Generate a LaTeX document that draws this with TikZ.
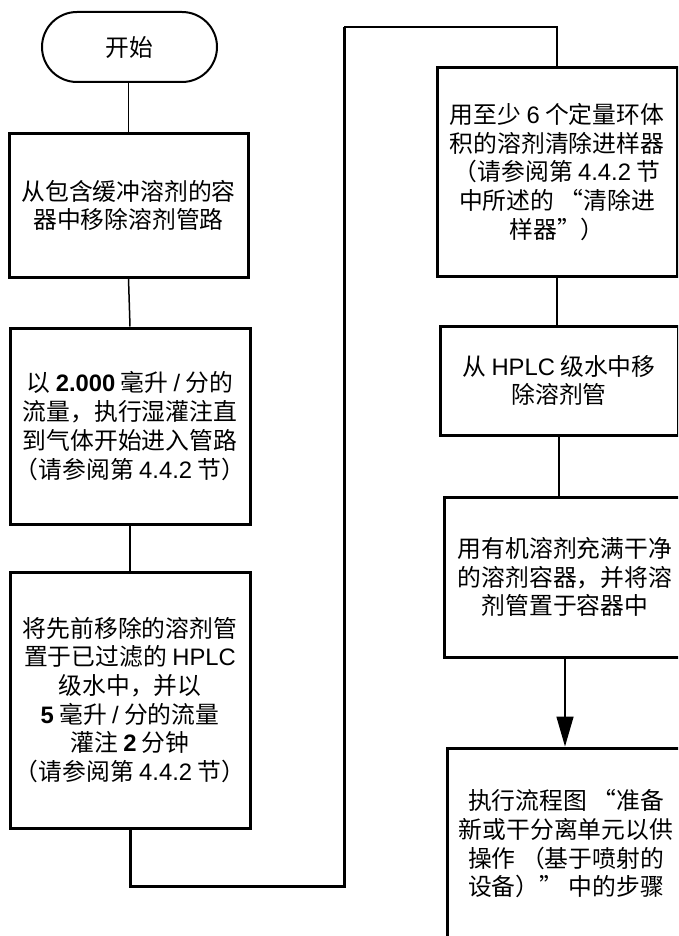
\documentclass[tikz,border=0pt]{standalone}
\usepackage{fontspec}
\setmainfont{Noto Sans CJK SC}
\newfontfamily\lat{Liberation Sans}
\usetikzlibrary{arrows.meta}
\newcommand{\BF}[1]{{\lat\bfseries #1}}
\newcommand{\LT}[1]{{\lat #1}}
\begin{document}
\begin{tikzpicture}[x=1pt,y=-1pt,
  box/.style={draw=black,line width=3pt,fill=white,align=center,inner sep=0pt,
    font=\fontsize{23.8}{28.7}\selectfont},
  term/.style={draw=black,line width=2pt,rounded corners=35pt,align=center,inner sep=0pt,
    minimum width=175pt,minimum height=70pt,font=\fontsize{23.8}{28}\selectfont},
  thin/.style={line width=1.5pt},
  thick/.style={line width=3pt},
  flow/.style={line width=1.5pt,-{Triangle[width=17pt,length=30pt]}}]
\useasboundingbox (0,0) rectangle (678,936);
\clip (0,0) rectangle (678,936);
\fill[white] (0,0) rectangle (678,936);

% left column
\node[term] (start) at (129.5,47) {开始};
\node[box,minimum width=239pt,minimum height=143pt] (b1) at (128.5,205.5)
  {从包含缓冲溶剂的容\\器中移除溶剂管路};
\node[box,minimum width=240pt,minimum height=196pt] (b2) at (130,426)
  {以 \BF{2.000} 毫升 \LT{/} 分的\\流量，执行湿灌注直\\到气体开始进入管路\\（请参阅第 \LT{4.4.2} 节）};
\node[box,minimum width=240pt,minimum height=256pt] (b3) at (130,700)
  {将先前移除的溶剂管\\置于已过滤的 \LT{HPLC}\\级水中，并以\\\BF{5} 毫升 \LT{/} 分的流量\\灌注 \BF{2} 分钟\\（请参阅第 \LT{4.4.2} 节）};

% right column
\node[box,minimum width=240pt,minimum height=208pt] (r1) at (557,172)
  {用至少 \LT{6} 个定量环体\\积的溶剂清除进样器\\（请参阅第 \LT{4.4.2} 节\\中所述的 “清除进\\样器”）};
\node[box,minimum width=238pt,minimum height=109pt] (r2) at (559,380.5)
  {从 \LT{HPLC} 级水中移\\除溶剂管};
\node[box,minimum width=242pt,minimum height=160pt] (r3) at (565,577)
  {用有机溶剂充满干净\\的溶剂容器，并将溶\\剂管置于容器中};
\node[box,minimum width=238pt,minimum height=192pt] (r4) at (566,844)
  {执行流程图 “准备\\新或干分离单元以供\\操作 （基于喷射的\\设备）” 中的步骤};

% connectors
\coordinate (p1) at (344,886);
\coordinate (p2) at (344,27);
\draw[thin] (start.south -| b1.north) -- (b1.north);
\draw[thin] (b1.south) -- (b2.north);
\draw[thin] (b2.south) -- (b3.north);
\draw[thick] (b3.south) |- (p1) -- (p2);
\draw[thin] (p2) -| (r1.north);
\draw[thin] (r1.south) -- (r1.south |- r2.north);
\draw[thin] (r2.south) -- (r2.south |- r3.north);
\draw[flow] (r3.south) -- (r3.south |- r4.north);
\end{tikzpicture}
\end{document}
